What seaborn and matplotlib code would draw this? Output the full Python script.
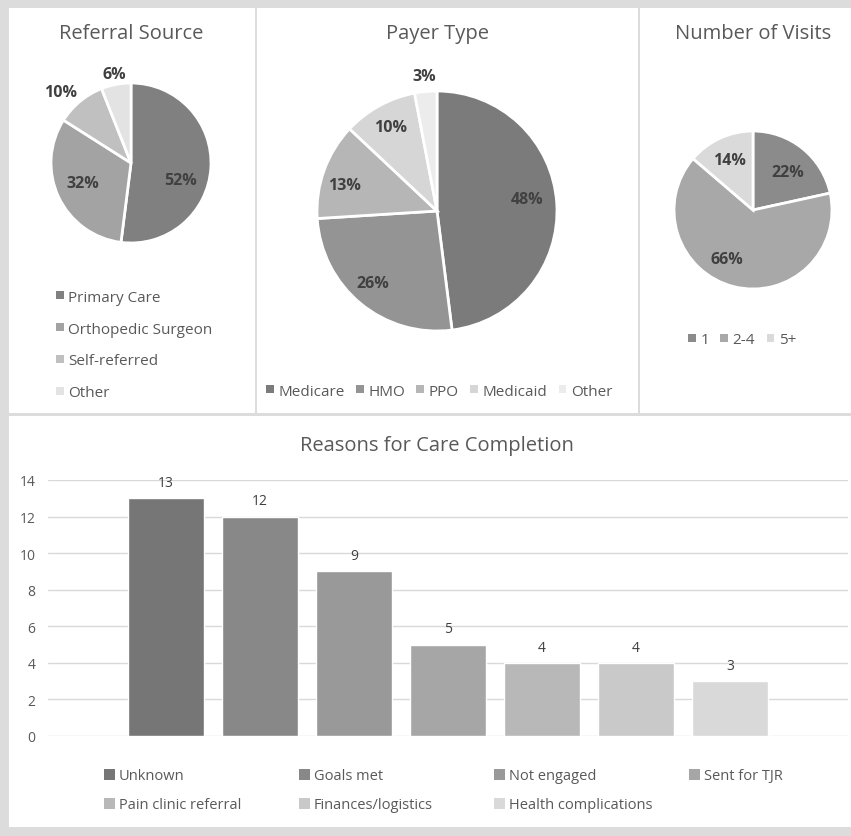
import matplotlib
matplotlib.use("Agg")
import matplotlib.pyplot as plt
import seaborn as sns
import numpy as np
import pandas as pd
from matplotlib.patches import Rectangle

# ---------------- data ----------------
referral_labels = ["Primary Care", "Orthopedic Surgeon", "Self-referred", "Other"]
referral_pct = [52, 32, 10, 6]
payer_labels = ["Medicare", "HMO", "PPO", "Medicaid", "Other"]
payer_pct = [48, 26, 13, 10, 3]
visits_labels = ["1", "2-4", "5+"]
visits_pct = [22, 66, 14]
reasons = ["Unknown", "Goals met", "Not engaged", "Sent for TJR",
           "Pain clinic referral", "Finances/logistics", "Health complications"]
reason_counts = [13, 12, 9, 5, 4, 4, 3]
y_ticks = [0, 2, 4, 6, 8, 10, 12, 14]

# ---------------- style ----------------
referral_colors = ["#808080", "#a3a3a3", "#c0c0c0", "#e3e3e3"]
payer_colors = ["#7b7b7b", "#949494", "#b6b6b6", "#d6d6d6", "#ececec"]
visits_colors = ["#8b8b8b", "#a8a8a8", "#dadada"]
bar_colors = ["#767676", "#888888", "#999999", "#a6a6a6", "#b8b8b8", "#c9c9c9", "#d9d9d9"]
TXT = "#595959"
LBL = "#404040"

W, H = 851, 837
sns.set_theme(style="white")
plt.rcParams['font.family'] = ['Open Sans', 'DejaVu Sans']

fig = plt.figure(figsize=(W / 100, H / 100), dpi=100)
fig.patch.set_facecolor('#dcdcdc')


def rect(x0, y0, x1, y1):
    return [x0 / W, 1 - y1 / H, (x1 - x0) / W, (y1 - y0) / H]


# white panels
for (x0, y0, x1, y1) in [(9, 9, 255, 414), (257, 9, 638, 414), (640, 9, 851, 414), (9, 417, 851, 828)]:
    fig.patches.append(Rectangle((x0 / W, 1 - y1 / H), (x1 - x0) / W, (y1 - y0) / H,
                                 transform=fig.transFigure, facecolor='white',
                                 edgecolor='none', zorder=-5))


def title(text, x, y):
    fig.text(x / W, 1 - y / H, text, ha='center', va='center', fontsize=14.5, color=TXT)


def draw_pie(cx, cy, r, values, colors, dists, offsets):
    pad = 1.05
    ax = fig.add_axes(rect(cx - r * pad, cy - r * pad, cx + r * pad, cy + r * pad))
    wedges, _ = ax.pie(values, colors=colors, startangle=90, counterclock=False, radius=1,
                       wedgeprops=dict(edgecolor='white', linewidth=2))
    ax.set_xlim(-pad, pad)
    ax.set_ylim(-pad, pad)
    ax.set_aspect('equal')
    ax.axis('off')
    for w, v, d, o in zip(wedges, values, dists, offsets):
        ang = np.deg2rad((w.theta1 + w.theta2) / 2 + o)
        ax.text(d * np.cos(ang), d * np.sin(ang), f"{v}%", ha='center', va='center',
                fontsize=11.5, fontweight='bold', color=LBL)
    return ax


def legend(labels, colors, x, y, ncol=1, fontsize=11, labelspacing=0.8, columnspacing=0.8,
           hsize=0.5):
    handles = [Rectangle((0, 0), 1, 1, facecolor=c, edgecolor='none') for c in colors]
    fig.legend(handles, labels, loc='center left', bbox_to_anchor=(x / W, 1 - y / H),
               ncol=ncol, frameon=False, fontsize=fontsize, handlelength=hsize,
               handleheight=hsize, handletextpad=0.3, borderpad=0, borderaxespad=0,
               labelspacing=labelspacing, columnspacing=columnspacing, labelcolor=TXT)


# ---------------- Referral Source ----------------
title("Referral Source", 131, 34)
draw_pie(131, 164, 80, referral_pct, referral_colors,
         [0.65, 0.65, 1.25, 1.13], [-15, -3, 5, 0])
legend(referral_labels, referral_colors, 56, 346, labelspacing=1.11)

# ---------------- Payer Type ----------------
title("Payer Type", 437, 34)
draw_pie(437, 212, 120, payer_pct, payer_colors,
         [0.76, 0.8, 0.8, 0.8, 1.13], [4, -2, 4, 0, 0])
legend(payer_labels, payer_colors, 266, 392, ncol=5, columnspacing=0.75)

# ---------------- Number of Visits ----------------
title("Number of Visits", 753, 34)
draw_pie(753, 211, 79, visits_pct, visits_colors,
         [0.65, 0.7, 0.7], [-4, -14, 1])
legend(visits_labels, visits_colors, 688, 341, ncol=3, columnspacing=0.75)

# ---------------- Reasons for Care Completion ----------------
title("Reasons for Care Completion", 437, 446)
axb = fig.add_axes(rect(48, 481, 848, 737))
df = pd.DataFrame({'reason': reasons, 'count': reason_counts})
sns.barplot(data=df, x='reason', y='count', hue='reason', hue_order=reasons,
            palette=bar_colors, saturation=1, width=0.8, legend=False, ax=axb, zorder=3)
axb.set_xlim(-1.255, 7.255)
axb.set_ylim(0, 14)
axb.set_yticks(y_ticks)
axb.set_xticks([])
axb.set_xlabel('')
axb.set_ylabel('')
axb.patch.set_alpha(0)
for s in axb.spines.values():
    s.set_visible(False)
axb.yaxis.grid(True, color='#d9d9d9', linewidth=1, zorder=0)
axb.set_axisbelow(True)
axb.tick_params(axis='y', length=0, pad=9, labelsize=10, labelcolor=TXT)
for cont in axb.containers:
    axb.bar_label(cont, padding=6, fontsize=10, color=LBL)

col_x = [104, 299, 494, 689]
for ci, cx in enumerate(col_x):
    idx = [i for i in (ci, ci + 4) if i < len(reasons)]
    legend([reasons[i] for i in idx], [bar_colors[i] for i in idx], cx,
           777 if len(idx) == 1 else 791.5, fontsize=10.5, labelspacing=0.96, hsize=0.72)

fig.savefig("out.png", dpi=100, facecolor=fig.get_facecolor())
